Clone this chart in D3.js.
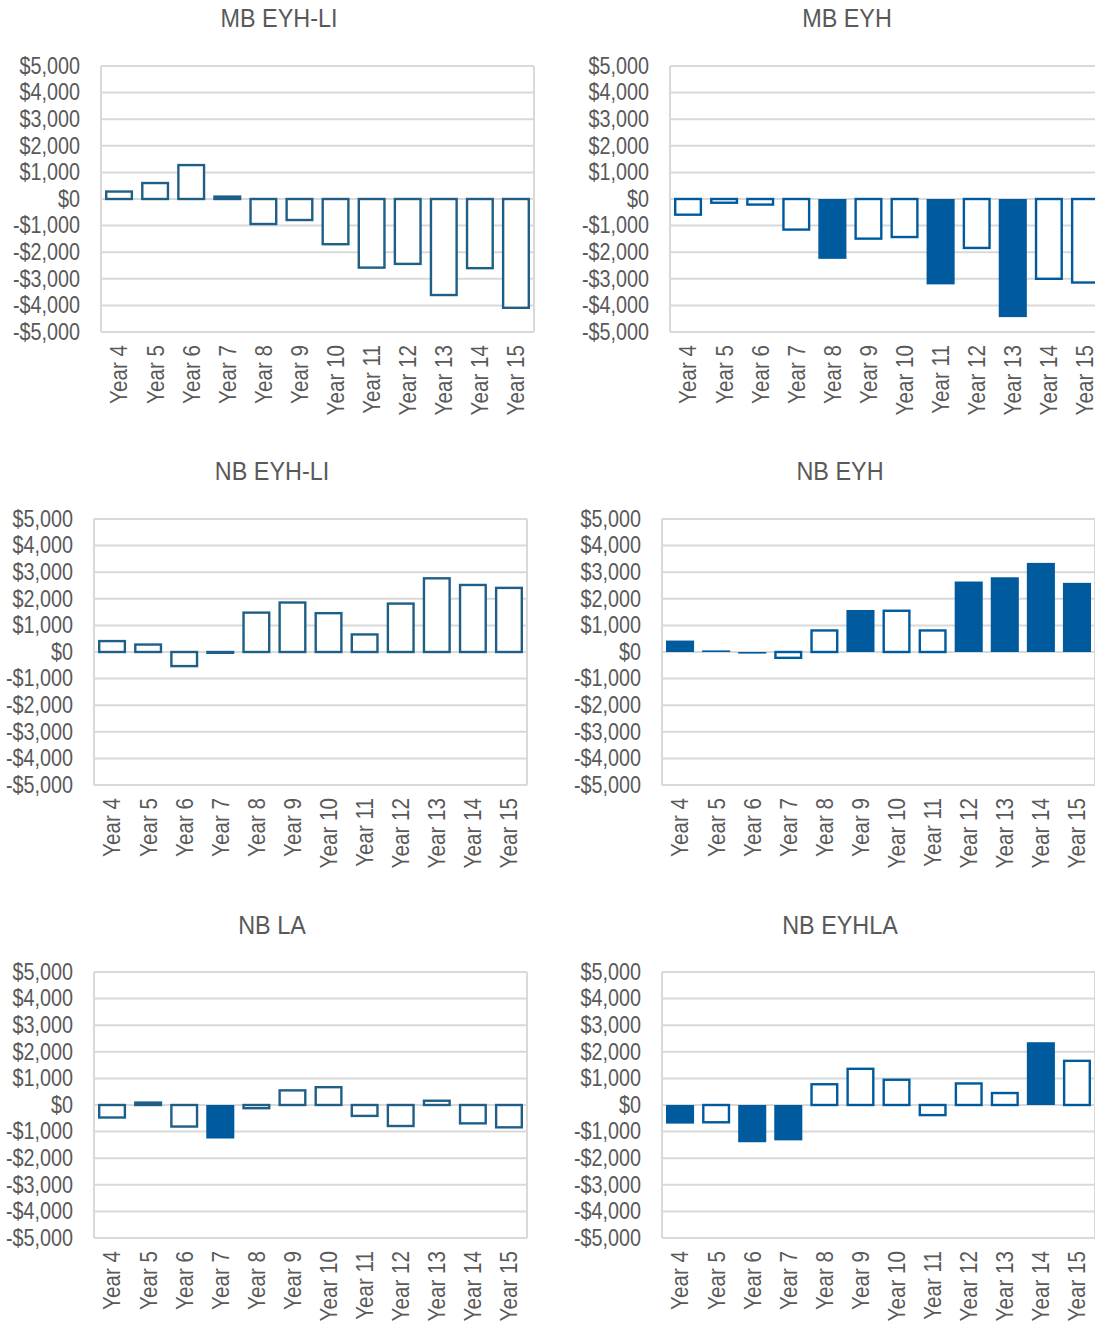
<!DOCTYPE html>
<html>
<head>
<meta charset="utf-8">
<script src="https://cdn.jsdelivr.net/npm/d3@7"></script>
<style>
  html, body { margin: 0; padding: 0; background: #fff; }
  svg { display: block; }
  text { font-family: "Liberation Sans", Arial, sans-serif; fill: #595959; }
</style>
</head>
<body>
<script>
// ---- data ----
const categories = ["Year 4","Year 5","Year 6","Year 7","Year 8","Year 9","Year 10","Year 11","Year 12","Year 13","Year 14","Year 15"];
const titles = ["MB EYH-LI", "MB EYH", "NB EYH-LI", "NB EYH", "NB LA", "NB EYHLA"];
const yTicks = [5000, 4000, 3000, 2000, 1000, 0, -1000, -2000, -3000, -4000, -5000];

const mbEyhLi  = [280, 600, 1275, 90, -940, -790, -1700, -2580, -2440, -3610, -2600, -4090];
const mbEyh    = [-590, -140, -210, -1150, -2250, -1490, -1430, -3210, -1840, -4440, -3000, -3140];
const nbEyhLi  = [410, 280, -530, -30, 1480, 1860, 1460, 660, 1820, 2770, 2520, 2410];
const nbEyh    = [430, 60, -60, -220, 810, 1580, 1550, 810, 2650, 2810, 3350, 2600];
const nbLa     = [-470, 90, -810, -1260, -120, 550, 670, -410, -790, 160, -690, -840];
const nbEyhla  = [-700, -650, -1400, -1330, 780, 1360, 950, -380, 810, 450, 2360, 1660];

// filled (highlighted) bars, by category
const mbEyhFilled   = ["Year 8", "Year 11", "Year 13"];
const nbEyhFilled   = ["Year 4", "Year 5", "Year 6", "Year 9", "Year 12", "Year 13", "Year 14", "Year 15"];
const nbLaFilled    = ["Year 7"];
const nbEyhlaFilled = ["Year 4", "Year 6", "Year 7", "Year 14"];

const seriesList = [mbEyhLi, mbEyh, nbEyhLi, nbEyh, nbLa, nbEyhla];
const filledList = [[], mbEyhFilled, [], nbEyhFilled, nbLaFilled, nbEyhlaFilled];

// ---- layout / styles ----
const W = 1095, H = 1323;
const layouts = [
  { left: 101, top: 66,  titleX: 279, titleY: 27,  color: "#1f5f87" },
  { left: 670, top: 66,  titleX: 847, titleY: 27,  color: "#005b9e" },
  { left: 94,  top: 519, titleX: 272, titleY: 480, color: "#1f5f87" },
  { left: 662, top: 519, titleX: 840, titleY: 480, color: "#005b9e" },
  { left: 94,  top: 972, titleX: 272, titleY: 934, color: "#1f5f87" },
  { left: 662, top: 972, titleX: 840, titleY: 934, color: "#005b9e" }
];
const fillColor = "#005b9e";
const plotW = 433, plotH = 266;
const gridColor = "#d9d9d9";
const narrow = 0.86;      // horizontal condensing of tick text (Arial Narrow look)
const narrowTitle = 0.9;

const svg = d3.select("body").append("svg").attr("width", W).attr("height", H);

const fmt = d => (d < 0 ? "-" : "") + "$" + d3.format(",")(Math.abs(d));

seriesList.forEach((values, i) => {
  const L = layouts[i];
  const filled = new Set(filledList[i]);
  const g = svg.append("g").attr("transform", `translate(${L.left},${L.top})`);

  const x = d3.scaleBand().domain(categories).range([0, plotW])
    .paddingInner(0.222).paddingOuter(0.111);
  const y = d3.scaleLinear().domain([-5000, 5000]).range([plotH, 0]);

  // title
  svg.append("text")
    .attr("transform", `translate(${L.titleX},${L.titleY}) scale(${narrowTitle},1)`)
    .attr("text-anchor", "middle")
    .style("font-size", "26px")
    .text(titles[i]);

  // gridlines
  g.append("g").selectAll("line").data(yTicks).join("line")
    .attr("x1", 0).attr("x2", plotW)
    .attr("y1", d => y(d)).attr("y2", d => y(d))
    .attr("stroke", gridColor).attr("stroke-width", 2);
  // border verticals
  g.append("line").attr("x1", 0).attr("x2", 0).attr("y1", 0).attr("y2", plotH)
    .attr("stroke", gridColor).attr("stroke-width", 2);
  g.append("line").attr("x1", plotW).attr("x2", plotW).attr("y1", 0).attr("y2", plotH)
    .attr("stroke", gridColor).attr("stroke-width", 2);

  // y axis labels
  const ya = g.append("g").call(d3.axisLeft(y).tickValues(yTicks).tickFormat(fmt).tickSize(0).tickPadding(21));
  ya.select(".domain").remove();
  ya.selectAll("text")
    .attr("x", 0)
    .attr("transform", `translate(-21,0) scale(${narrow},1)`)
    .style("font-size", "23px").attr("fill", "#595959");

  // x axis labels
  const xa = g.append("g").attr("transform", `translate(0,${plotH})`)
    .call(d3.axisBottom(x).tickSize(0));
  xa.select(".domain").remove();
  xa.selectAll("text")
    .attr("transform", `rotate(-90) translate(-13,0) scale(${narrow},1)`)
    .attr("x", 0).attr("y", 0).attr("dy", "0.35em")
    .attr("text-anchor", "end")
    .attr("fill", "#595959")
    .style("font-size", "24px");

  // bars
  const sw = 2.4;
  g.append("g").selectAll("rect").data(categories.map((c, k) => ({ c, v: values[k] }))).join("rect")
    .attr("x", d => filled.has(d.c) ? x(d.c) : x(d.c) + sw / 2)
    .attr("width", d => filled.has(d.c) ? x.bandwidth() : x.bandwidth() - sw)
    .attr("y", d => Math.min(y(d.v), y(0)))
    .attr("height", d => Math.max(Math.abs(y(d.v) - y(0)), 0.5))
    .attr("fill", d => filled.has(d.c) ? fillColor : "#fff")
    .attr("stroke", d => filled.has(d.c) ? "none" : L.color)
    .attr("stroke-width", sw);
});
</script>
</body>
</html>
